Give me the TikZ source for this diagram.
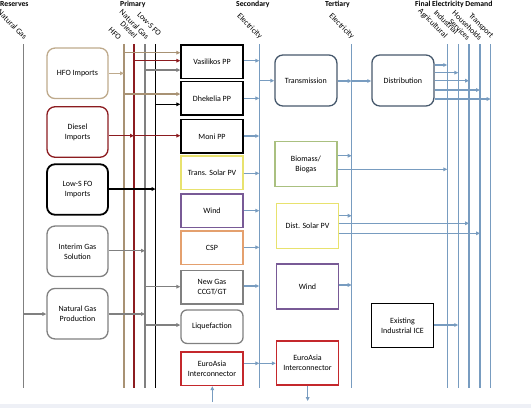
\documentclass[tikz,border=0pt]{standalone}
\usepackage{fontspec}
\setmainfont{Carlito}
\usetikzlibrary{arrows.meta}
\definecolor{tanL}{RGB}{168,146,116}
\definecolor{tanB}{RGB}{190,170,140}
\definecolor{dred}{RGB}{140,28,32}
\definecolor{gasG}{RGB}{128,128,128}
\definecolor{elec}{RGB}{120,156,192}
\definecolor{slate}{RGB}{70,88,108}
\definecolor{solarY}{RGB}{232,226,110}
\definecolor{windP}{RGB}{120,90,150}
\definecolor{cspO}{RGB}{228,160,110}
\definecolor{euroR}{RGB}{196,40,44}
\definecolor{bioG}{RGB}{170,192,128}
\definecolor{bandC}{RGB}{238,240,246}
\begin{document}
\begin{tikzpicture}[x=1pt,y=-1pt,
 every node/.style={font=\fontsize{8}{10}\selectfont, align=center, inner sep=0pt, text=black},
 pbox/.style={draw, rounded corners=8pt, line width=1.3pt, minimum width=61pt, minimum height=50.5pt},
 sbox/.style={draw, line width=1.3pt, minimum width=62pt, minimum height=33.5pt},
 tbox/.style={draw, line width=1.3pt, minimum width=62pt, minimum height=45pt},
 bus/.style={line width=1.5pt},
 arr/.style={line width=1.15pt, -{Triangle[length=4pt,width=3.6pt]}},
 hdr/.style={font=\fontsize{7.7}{9}\selectfont\bfseries, anchor=west},
 rlab/.style={font=\fontsize{8}{9}\selectfont, rotate=-45, anchor=east},
]
\useasboundingbox (0,0) rectangle (531,408);
\fill[bandC] (0,404) rectangle (531,408);

% headers
\node[hdr] (hres) at (0,4.5) {Reserves};
\node[hdr] (hpri) at (120,4.5) {Primary};
\node[hdr] (hsec) at (236,4.5) {Secondary};
\node[hdr] (hter) at (325,4.5) {Tertiary};
\node[hdr] (hfin) at (415,4.5) {Final Electricity Demand};

% bus coordinates
\foreach \n/\x in {ng/23.5, hf/124, ds/134, gs/145, ls/155.6, se/259.3, te/351.7, ag/447.3, in/458.3, sv/469, hh/480, tr/490.7}{
  \coordinate (\n T) at (\x,44);
  \coordinate (\n B) at (\x,388);
}
\draw[bus,gasG] (ngT) -- (ngB);
\draw[bus,tanL] (hfT) -- (hfB);
\draw[bus,dred] (dsT) -- (dsB);
\draw[bus,gasG] (gsT) -- (gsB);
\draw[bus,black] (lsT) -- (lsB);
\foreach \n in {se,te,ag,in,sv,hh,tr}{\draw[bus,elec] (\n T) -- (\n B);}

% rotated labels
\node[rlab] (lng) at (26,38) {Natural Gas};
\node[rlab] (lhf) at (120,39) {HFO};
\node[rlab] (lds) at (136,37) {Diesel};
\node[rlab] (lgs) at (148,38) {Natural Gas};
\node[rlab] (lls) at (160,35) {Low-S FO};
\node[rlab] (lse) at (261,38) {Electricity};
\node[rlab] (lte) at (353,38) {Electricity};
\node[rlab] (lag) at (446,37) {Agricultural};
\node[rlab] (lin) at (457,33) {Industrial};
\node[rlab] (lsv) at (469,39) {Services};
\node[rlab] (lhh) at (481,39) {Households};
\node[rlab] (ltr) at (492,37) {Transport};

% primary boxes
\node[pbox,draw=tanB] (hfo) at (77.5,73.3) {HFO Imports};
\node[pbox,draw=dred] (dsl) at (77.5,132) {Diesel\\Imports};
\node[pbox,draw=black,line width=1.8pt] (lsf) at (77.5,189.5) {Low-S FO\\Imports};
\node[pbox,draw=gasG] (igs) at (77.5,251.3) {Interim Gas\\Solution};
\node[pbox,draw=gasG] (ngp) at (77.5,313.7) {Natural Gas\\Production};

% secondary boxes
\node[sbox] (vas) at (212,61.7) {Vasilikos PP};
\node[sbox] (dhk) at (212,98.3) {Dhekelia PP};
\node[sbox] (mon) at (212,136.3) {Moni PP};
\node[sbox,draw=solarY] (tsp) at (212,172.7) {Trans. Solar PV};
\node[sbox,draw=windP] (wd1) at (212,210.7) {Wind};
\node[sbox,draw=cspO] (csp) at (212,247.8) {CSP};
\node[sbox,draw=gasG] (ngs) at (212,287.2) {New Gas\\CCGT/GT};
\node[sbox,draw=gasG,rounded corners=6pt] (liq) at (212,326.7) {Liquefaction};
\node[sbox,draw=euroR] (eu1) at (212,368.8) {EuroAsia\\Interconnector};

% tertiary boxes
\node[tbox,draw=slate,rounded corners=8pt,minimum height=51pt] (trn) at (305.9,80.5) {Transmission};
\node[tbox,draw=bioG] (bio) at (305.9,164.2) {Biomass/\\Biogas};
\node[tbox,draw=solarY] (dsp) at (307.5,225.8) {Dist. Solar PV};
\node[tbox,draw=windP] (wd2) at (307.5,286.5) {Wind};
\node[tbox,draw=euroR,minimum height=44pt] (eu2) at (307.5,363) {EuroAsia\\Interconnector};
\node[tbox,draw=slate,rounded corners=8pt,minimum height=51pt] (dst) at (402.9,80.5) {Distribution};
\node[tbox,draw=black,minimum height=44pt] (ice) at (402.5,325.3) {Existing\\Industrial ICE};

% primary inputs
\draw[arr,tanB] (hfo.east |- 0,73.3) -- (hfT |- 0,73.3);
\draw[arr,dred] (dsl.east |- 0,135.7) -- (dsT |- 0,135.7);
\draw[arr,black] (lsf.east |- 0,189) -- (lsT |- 0,189);
\draw[arr,gasG] (igs.east |- 0,250.7) -- (gsT |- 0,250.7);
\draw[arr,gasG] (ngT |- 0,314) -- (ngp.west |- 0,314);
\draw[arr,gasG] (ngp.east |- 0,314) -- (gsT |- 0,314);

% primary to secondary
\draw[arr,tanL] (hfT |- 0,52.7) -- (vas.west |- 0,52.7);
\draw[arr,dred] (dsT |- 0,60.7) -- (vas.west |- 0,60.7);
\draw[arr,gasG] (gsT |- 0,70) -- (vas.west |- 0,70);
\draw[arr,tanL] (hfT |- 0,94) -- (dhk.west |- 0,94);
\draw[arr,black] (lsT |- 0,104.3) -- (dhk.west |- 0,104.3);
\draw[arr,dred] (dsT |- 0,135.7) -- (mon.west |- 0,135.7);
\draw[arr,gasG] (gsT |- 0,286.7) -- (ngs.west |- 0,286.7);
\draw[arr,gasG] (gsT |- 0,325) -- (liq.west |- 0,325);

% secondary to electricity bus
\foreach \b/\y in {vas/60.7, dhk/98.3, mon/136, tsp/173.3, wd1/210.7, csp/247.3, ngs/286, eu1/363.3}{
  \draw[arr,elec] (\b.east |- 0,\y) -- (seT |- 0,\y);
}
\draw[arr,elec] (seT |- 0,363.3) -- (eu2.west |- 0,363.3);
\coordinate (inE) at (212.3,402);
\draw[arr,elec] (inE) -- (eu1.south -| inE);
\draw[arr,elec] (seT |- 0,80.7) -- (trn.west |- 0,80.7);

% tertiary
\draw[arr,elec] (trn.east |- 0,81) -- (teT |- 0,81);
\draw[arr,elec] (teT |- 0,81) -- (dst.west |- 0,81);
\draw[arr,elec] (bio.east |- 0,155.7) -- (teT |- 0,155.7);
\draw[arr,elec] (bio.east |- 0,169.3) -- (agT |- 0,169.3);
\draw[arr,elec] (dsp.east |- 0,215.7) -- (teT |- 0,215.7);
\draw[arr,elec] (dsp.east |- 0,223.3) -- (svT |- 0,223.3);
\draw[arr,elec] (dsp.east |- 0,233.3) -- (hhT |- 0,233.3);
\draw[arr,elec] (wd2.east |- 0,285) -- (teT |- 0,285);
\coordinate (outE) at (307.7,401);
\draw[arr,elec] (eu2.south -| outE) -- (outE);

% distribution to demand
\draw[arr,elec] (dst.east |- 0,65) -- (agT |- 0,65);
\draw[arr,elec] (dst.east |- 0,72.7) -- (inT |- 0,72.7);
\draw[arr,elec] (dst.east |- 0,80.7) -- (svT |- 0,80.7);
\draw[arr,elec] (dst.east |- 0,90) -- (hhT |- 0,90);
\draw[arr,elec] (dst.east |- 0,99) -- (trT |- 0,99);
\draw[arr,elec] (ice.east |- 0,325) -- (inT |- 0,325);
\end{tikzpicture}
\end{document}
